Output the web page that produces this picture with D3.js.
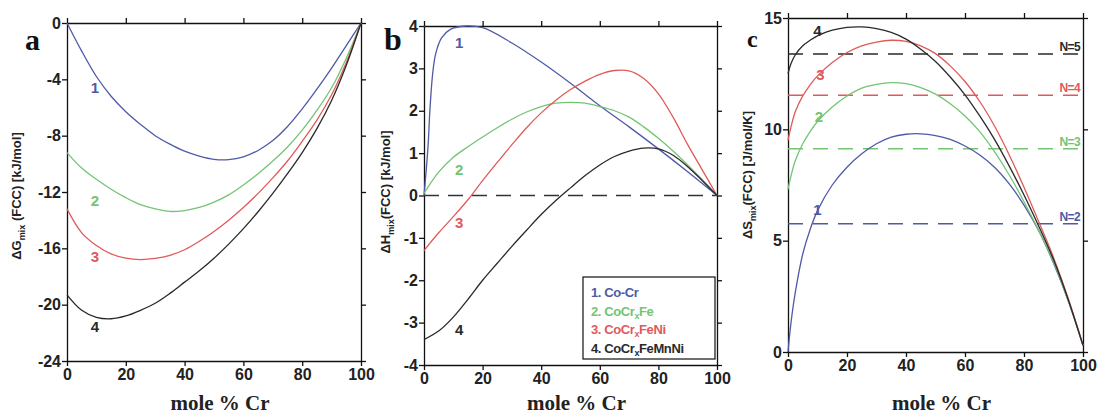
<!DOCTYPE html>
<html>
<head>
<meta charset="utf-8">
<script src="https://cdn.jsdelivr.net/npm/d3@7"></script>
<style>
  html, body { margin: 0; padding: 0; background: #fff; }
  svg { display: block; }
  .tick text { font-family: "Liberation Sans", Arial, sans-serif; font-weight: bold; font-size: 16px; fill: #222; }
</style>
</head>
<body>
<svg id="chart" width="1102" height="414"></svg>
<script>
// Composition axis (mole % Cr)
const molePct = [0, 5, 10, 15, 20, 25, 30, 35, 40, 45, 50, 55, 60, 65, 70, 75, 80, 85, 90, 95, 100];

// Series names and colours
const seriesNames = ["1. Co-Cr", "2. CoCr_xFe", "3. CoCr_xFeNi", "4. CoCr_xFeMnNi"];
const seriesColors = ["#4f5aa6", "#74c474", "#e05a5a", "#2a2a2a"];

// (a) Gibbs free energy of mixing, kJ/mol
const gMix1 = [0, -2.0, -3.8, -5.2, -6.3, -7.2, -8.0, -8.6, -9.1, -9.45, -9.68, -9.7, -9.5, -9.05, -8.35, -7.35, -6.1, -4.7, -3.2, -1.6, 0];
const gMix2 = [-9.2, -10.3, -11.1, -11.8, -12.4, -12.9, -13.2, -13.38, -13.32, -13.1, -12.72, -12.2, -11.5, -10.7, -9.8, -8.8, -7.6, -6.2, -4.6, -2.5, 0];
const gMix3 = [-13.2, -14.9, -15.8, -16.4, -16.7, -16.8, -16.72, -16.5, -16.1, -15.5, -14.8, -14.0, -13.1, -12.1, -11.0, -9.8, -8.4, -6.9, -5.1, -2.8, 0];
const gMix4 = [-19.3, -20.4, -20.9, -21.0, -20.8, -20.4, -19.9, -19.2, -18.4, -17.6, -16.7, -15.7, -14.6, -13.4, -12.1, -10.7, -9.2, -7.5, -5.5, -3.0, 0];

// (b) enthalpy of mixing, kJ/mol
const hMolePct1 = [0, 1, 1.5, 2, 3, 4, 6, 9, 14, 20, 30, 40, 50, 60, 70, 80, 90, 100];
const hMix1 = [0, 0.8, 1.3, 2.0, 2.9, 3.35, 3.72, 3.92, 4.0, 3.96, 3.6, 3.15, 2.65, 2.12, 1.62, 1.1, 0.56, 0];
const hMix2 = [0.05, 0.55, 0.9, 1.15, 1.38, 1.6, 1.8, 1.97, 2.1, 2.18, 2.2, 2.18, 2.1, 2.0, 1.85, 1.62, 1.35, 1.05, 0.72, 0.37, 0];
const hMix3 = [-1.3, -0.88, -0.5, -0.1, 0.35, 0.78, 1.2, 1.6, 1.95, 2.25, 2.5, 2.7, 2.86, 2.95, 2.94, 2.76, 2.4, 1.85, 1.2, 0.6, 0];
const hMix4 = [-3.4, -3.2, -2.87, -2.45, -2.0, -1.6, -1.2, -0.82, -0.45, -0.12, 0.18, 0.47, 0.72, 0.92, 1.05, 1.12, 1.1, 0.95, 0.68, 0.35, 0];

// (c) configurational entropy of mixing, J/mol/K
const sMolePct = [0, 1, 2.5, 5, 7.5, 10, 15, 20, 25, 30, 35, 40, 45, 50, 55, 60, 65, 70, 75, 80, 85, 90, 95, 100];
const sMix1 = [0, 1.3, 2.7, 4.4, 5.5, 6.35, 7.5, 8.3, 8.9, 9.35, 9.65, 9.78, 9.8, 9.72, 9.55, 9.25, 8.85, 8.3, 7.55, 6.6, 5.45, 4.0, 2.3, 0.3];
const sMix2 = [7.3, 7.9, 8.6, 9.35, 9.9, 10.35, 11.0, 11.5, 11.85, 12.02, 12.1, 12.05, 11.87, 11.58, 11.15, 10.6, 9.9, 9.0, 7.95, 6.75, 5.45, 4.05, 2.3, 0.3];
const sMix3 = [9.5, 10.1, 10.8, 11.5, 12.0, 12.4, 13.0, 13.45, 13.75, 13.92, 14.0, 13.95, 13.75, 13.4, 12.85, 12.15, 11.25, 10.15, 8.85, 7.4, 5.85, 4.25, 2.4, 0.3];
const sMix4 = [12.5, 12.95, 13.35, 13.75, 14.0, 14.2, 14.45, 14.58, 14.6, 14.52, 14.35, 14.05, 13.6, 13.05, 12.35, 11.55, 10.6, 9.55, 8.35, 7.05, 5.65, 4.15, 2.35, 0.3];

// ideal entropy R·ln N for N-component equimolar alloys
const idealN = ["N=2", "N=3", "N=4", "N=5"];
const idealS = [5.76, 9.13, 11.53, 13.38];

// curve label positions (mole % Cr, value)
const labelsA = [[9.5, -4.6], [9.5, -12.6], [9.5, -16.6], [9.5, -21.6]];
const labelsB = [[12, 3.6], [12, 0.6], [12, -0.65], [12, -3.17]];
const labelsC = [[10, 6.4], [10.5, 10.55], [11, 12.45], [10, 14.43]];

const svg = d3.select("#chart");
const sans = "'Liberation Sans', Arial, sans-serif";
const serif = "'Liberation Serif', 'Times New Roman', serif";

function panel(box, yDomain, yTicks) {
  const x = d3.scaleLinear().domain([0, 100]).range([box.x0, box.x1]);
  const y = d3.scaleLinear().domain(yDomain).range([box.y1, box.y0]);
  const g = svg.append("g");
  const xt = [0, 20, 40, 60, 80, 100];
  const style = sel => {
    sel.select(".domain").attr("stroke", "#111").attr("stroke-width", 1.3);
    sel.selectAll(".tick line").attr("stroke", "#111").attr("stroke-width", 1.3);
  };
  g.append("g").attr("transform", `translate(0,${box.y1})`)
    .call(d3.axisBottom(x).tickValues(xt).tickSize(5).tickPadding(3).tickSizeOuter(0)).call(style);
  g.append("g").attr("transform", `translate(0,${box.y0})`)
    .call(d3.axisTop(x).tickValues(xt).tickSize(5).tickFormat("").tickSizeOuter(0)).call(style);
  g.append("g").attr("transform", `translate(${box.x0},0)`)
    .call(d3.axisLeft(y).tickValues(yTicks).tickSize(5).tickPadding(1).tickSizeOuter(0)
      .tickFormat(d => d3.format("d")(d).replace("\u2212", "-"))).call(style);
  g.append("g").attr("transform", `translate(${box.x1},0)`)
    .call(d3.axisRight(y).tickValues(yTicks).tickSize(5).tickFormat("").tickSizeOuter(0)).call(style);
  g.append("text")
    .attr("x", (box.x0 + box.x1) / 2 + 6).attr("y", 410)
    .attr("text-anchor", "middle")
    .attr("font-family", serif).attr("font-weight", "bold").attr("font-size", 21)
    .attr("fill", "#222").text("mole % Cr");
  return { x, y, g };
}

function drawCurves(p, xs, ysList) {
  ysList.forEach((ys, i) => {
    const xv = Array.isArray(xs[0]) ? xs[i] : xs;
    const line = d3.line().x((d, k) => p.x(xv[k])).y(d => p.y(d)).curve(d3.curveCatmullRom.alpha(0.5));
    p.g.append("path").datum(ys).attr("d", line)
      .attr("fill", "none").attr("stroke", seriesColors[i]).attr("stroke-width", 1.3);
  });
}

function drawLabels(p, pos) {
  pos.forEach((d, i) => {
    p.g.append("text").attr("x", p.x(d[0])).attr("y", p.y(d[1]))
      .attr("dy", "0.35em").attr("text-anchor", "middle")
      .attr("font-family", sans).attr("font-weight", "bold").attr("font-size", 15)
      .attr("fill", seriesColors[i]).text(String(i + 1));
  });
}

function yTitle(cx, cy, main, sub, rest) {
  const t = svg.append("text")
    .attr("transform", `translate(${cx},${cy}) rotate(-90)`)
    .attr("text-anchor", "middle")
    .attr("font-family", sans).attr("font-weight", "bold").attr("font-size", 13)
    .attr("fill", "#222");
  t.append("tspan").text(main);
  t.append("tspan").attr("font-size", 9).attr("dy", 4).text(sub);
  t.append("tspan").attr("dy", -4).text(rest);
}

function panelLetter(x, y, s, size) {
  svg.append("text").attr("x", x).attr("y", y)
    .attr("font-family", serif).attr("font-weight", "bold").attr("font-size", size)
    .attr("fill", "#111").text(s);
}

// ---- (a) ΔG_mix ----
const pA = panel({ x0: 67, x1: 361, y0: 23, y1: 361 }, [-24, 0], [0, -4, -8, -12, -16, -20, -24]);
drawCurves(pA, molePct, [gMix1, gMix2, gMix3, gMix4]);
drawLabels(pA, labelsA);
yTitle(21, 196, "\u0394G", "mix", " (FCC) [kJ/mol]");
panelLetter(25, 50, "a", 30);

// ---- (b) ΔH_mix ----
const pB = panel({ x0: 424, x1: 717, y0: 26, y1: 365 }, [-4, 4], [4, 3, 2, 1, 0, -1, -2, -3, -4]);
pB.g.append("line")
  .attr("x1", pB.x(0)).attr("x2", pB.x(100)).attr("y1", pB.y(0)).attr("y2", pB.y(0))
  .attr("stroke", "#333").attr("stroke-width", 1.6).attr("stroke-dasharray", "15,9");
drawCurves(pB, [hMolePct1, molePct, molePct, molePct], [hMix1, hMix2, hMix3, hMix4]);
drawLabels(pB, labelsB);
yTitle(390, 192, "\u0394H", "mix", "(FCC) [kJ/mol]");
panelLetter(384, 50, "b", 32);

// legend
const leg = pB.g.append("g");
leg.append("rect").attr("x", 583).attr("y", 277).attr("width", 132).attr("height", 82)
  .attr("fill", "#fff").attr("stroke", "#222").attr("stroke-width", 1.3);
seriesNames.forEach((name, i) => {
  const t = leg.append("text").attr("x", 591).attr("y", 297 + i * 18.5)
    .attr("font-family", sans).attr("font-weight", "bold").attr("font-size", 13).attr("fill", seriesColors[i])
    .attr("letter-spacing", -0.4);
  const parts = name.split("_x");
  t.append("tspan").text(parts[0]);
  if (parts.length > 1) {
    t.append("tspan").attr("font-size", 9).attr("dy", 3).text("x");
    t.append("tspan").attr("dy", -3).text(parts[1]);
  }
});

// ---- (c) ΔS_mix ----
const pC = panel({ x0: 788, x1: 1083, y0: 18, y1: 352 }, [0, 15], [0, 5, 10, 15]);
idealS.forEach((v, i) => {
  pC.g.append("line")
    .attr("x1", pC.x(0)).attr("x2", pC.x(100)).attr("y1", pC.y(v)).attr("y2", pC.y(v))
    .attr("stroke", seriesColors[i]).attr("stroke-width", 1.6).attr("stroke-dasharray", "15,10");
  pC.g.append("text").attr("x", pC.x(100) - 3).attr("y", pC.y(v) - 3)
    .attr("text-anchor", "end")
    .attr("font-family", sans).attr("font-weight", "bold").attr("font-size", 12)
    .attr("letter-spacing", -0.6)
    .attr("fill", seriesColors[i]).text(idealN[i]);
});
drawCurves(pC, sMolePct, [sMix1, sMix2, sMix3, sMix4]);
drawLabels(pC, labelsC);
yTitle(752, 175, "\u0394S", "mix", "(FCC) [J/mol/K]");
panelLetter(747, 47, "c", 24);
</script>
</body>
</html>
